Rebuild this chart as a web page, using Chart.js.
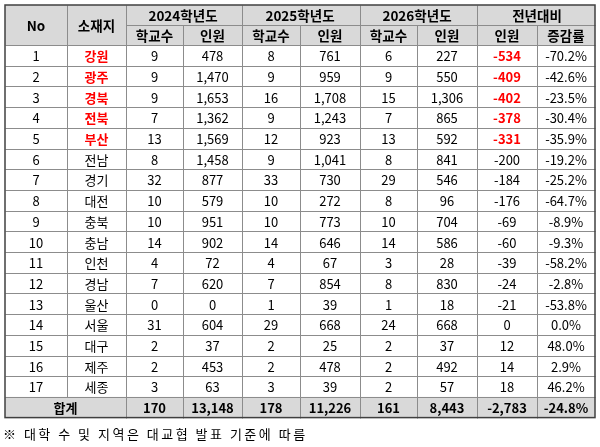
<!DOCTYPE html>
<html><head><meta charset="utf-8">
<script src="https://cdn.jsdelivr.net/npm/chart.js@4"></script>
<style>html,body{margin:0;padding:0;background:#fff}#c{display:block}</style>
</head><body>
<div style="width:600px;height:447px"><canvas id="c" width="600" height="447"></canvas></div>
<script>
const nos = ["1","2","3","4","5","6","7","8","9","10","11","12","13","14","15","16","17"];
const regions = ["강원","광주","경북","전북","부산","전남","경기","대전","충북","충남","인천","경남","울산","서울","대구","제주","세종"];
const schools2024 = ["9","9","9","7","13","8","32","10","10","14","4","7","0","31","2","2","3"];
const people2024 = ["478","1,470","1,653","1,362","1,569","1,458","877","579","951","902","72","620","0","604","37","453","63"];
const schools2025 = ["8","9","16","9","12","9","33","10","10","14","4","7","1","29","2","2","3"];
const people2025 = ["761","959","1,708","1,243","923","1,041","730","272","773","646","67","854","39","668","25","478","39"];
const schools2026 = ["6","9","15","7","13","8","29","8","10","14","3","8","1","24","2","2","2"];
const people2026 = ["227","550","1,306","865","592","841","546","96","704","586","28","830","18","668","37","492","57"];
const diffPeople = ["-534","-409","-402","-378","-331","-200","-184","-176","-69","-60","-39","-24","-21","0","12","14","18"];
const diffRate = ["-70.2%","-42.6%","-23.5%","-30.4%","-35.9%","-19.2%","-25.2%","-64.7%","-8.9%","-9.3%","-58.2%","-2.8%","-53.8%","0.0%","48.0%","2.9%","46.2%"];
const totals = ["170","13,148","178","11,226","161","8,443","-2,783","-24.8%"];
const highlightRows = 5;

const colX = [5,67,126,183,242,300,360,417,477,537,595];
const yTop = 5, yH1 = 25, yH2 = 45, rowH = 20.7;
const F = '"Noto Sans CJK KR","Noto Sans",sans-serif';

const tablePlugin = {
  id:'table',
  afterDraw(chart){
    const ctx = chart.ctx, xs = chart.scales.x, ys = chart.scales.y;
    const X = v=>xs.getPixelForValue(v), Y = v=>ys.getPixelForValue(v);
    const nRows = regions.length;
    const yData = yH2, yTot = yH2 + nRows*rowH, yEnd = yTot + rowH;
    ctx.save();
    ctx.fillStyle = '#d9d9d9';
    ctx.fillRect(X(colX[0]),Y(yTop),X(colX[10])-X(colX[0]),Y(yH2)-Y(yTop));
    ctx.fillRect(X(colX[0]),Y(yTot),X(colX[10])-X(colX[0]),Y(yEnd)-Y(yTot));
    const line=(x1,y1,x2,y2,c,w)=>{ctx.strokeStyle=c;ctx.lineWidth=w||1;ctx.beginPath();ctx.moveTo(Math.round(X(x1))+0.5,Math.round(Y(y1))+0.5);ctx.lineTo(Math.round(X(x2))+0.5,Math.round(Y(y2))+0.5);ctx.stroke();};
    const g='#8c8c8c';
    line(colX[2],yH1,colX[10],yH1,g);
    for(let i=0;i<=nRows;i++) line(colX[0],yData+i*rowH,colX[10],yData+i*rowH,g);
    for(let j=1;j<10;j++){
      const top = (j===1||j===2||j%2===0)?yTop:yH1;
      line(colX[j],top,colX[j],yTot,g);
      if(j>=2) line(colX[j],yTot,colX[j],yEnd,g);
    }
    ctx.strokeStyle='#404040';ctx.lineWidth=1.5;
    ctx.strokeRect(X(colX[0]),Y(yTop),X(colX[10])-X(colX[0]),Y(yEnd)-Y(yTop));
    ctx.textAlign='center';ctx.textBaseline='middle';
    const txt=(s,x,y,opt)=>{opt=opt||{};ctx.font=(opt.bold?'bold ':'')+(opt.size||13)+'px '+F;ctx.fillStyle=opt.color||'#000';ctx.fillText(s,X(x),Y(y)+1);};
    const cx=j=>(colX[j]+colX[j+1])/2;
    txt('No',cx(0),(yTop+yH2)/2,{bold:1,size:13.5});
    txt('소재지',cx(1),(yTop+yH2)/2,{bold:1,size:13.5});
    const groups=['2024학년도','2025학년도','2026학년도','전년대비'];
    groups.forEach((s,k)=>txt(s,colX[2+2*k+1],(yTop+yH1)/2,{bold:1,size:13.5}));
    const subs=['학교수','인원','학교수','인원','학교수','인원','인원','증감률'];
    subs.forEach((s,k)=>txt(s,cx(2+k),(yH1+yH2)/2,{bold:1,size:13.5}));
    const cols=[nos,regions,schools2024,people2024,schools2025,people2025,schools2026,people2026,diffPeople,diffRate];
    for(let i=0;i<nRows;i++){
      const y=yData+(i+0.5)*rowH;
      cols.forEach((arr,j)=>{
        const hl=i<highlightRows&&(j===1||j===8);
        txt(arr[i],cx(j),y,hl?{bold:1,color:'#ff0000'}:{});
      });
    }
    const yt=(yTot+yEnd)/2;
    txt('합계',(colX[0]+colX[2])/2,yt,{bold:1});
    totals.forEach((s,k)=>txt(s,cx(2+k),yt,{bold:1}));
    ctx.textAlign='left';ctx.font='13px '+F;ctx.fillStyle='#000';
    try{ctx.letterSpacing='2.5px';}catch(e){}
    ctx.fillText('※ 대학 수 및 지역은 대교협 발표 기준에 따름',X(3),Y(yEnd+16));
    ctx.restore();
  }
};

new Chart(document.getElementById('c'),{
  type:'scatter',
  data:{datasets:[]},
  options:{
    responsive:false,animation:false,
    layout:{padding:0},
    plugins:{legend:{display:false},tooltip:{enabled:false}},
    scales:{
      x:{type:'linear',min:0,max:600,display:false},
      y:{type:'linear',min:0,max:447,reverse:true,display:false}
    }
  },
  plugins:[tablePlugin]
});
</script>
</body></html>
